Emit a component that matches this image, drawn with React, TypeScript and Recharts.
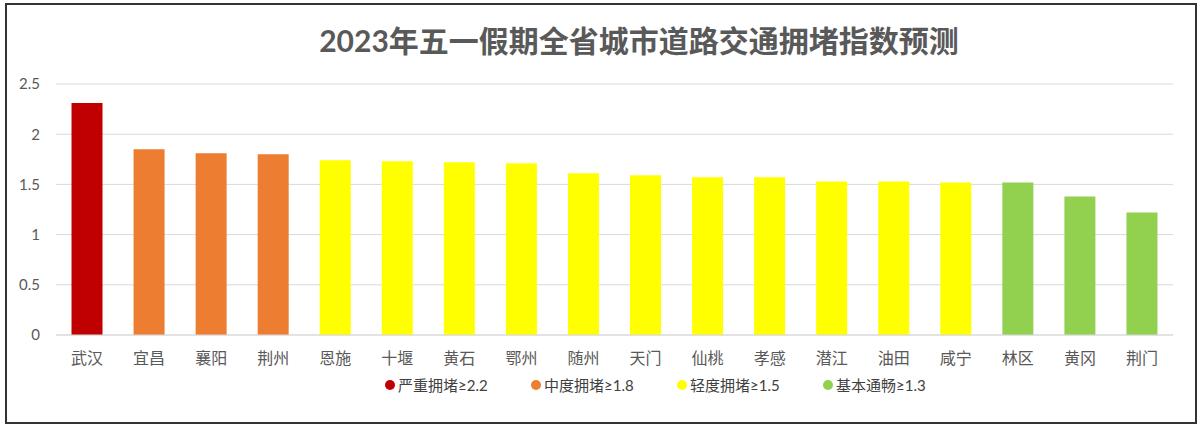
import { BarChart, Bar, XAxis, YAxis, CartesianGrid, Legend, Cell } from 'recharts';

const cities = ['武汉', '宜昌', '襄阳', '荆州', '恩施', '十堰', '黄石', '鄂州', '随州', '天门', '仙桃', '孝感', '潜江', '油田', '咸宁', '林区', '黄冈', '荆门'];
const values = [2.31, 1.85, 1.81, 1.8, 1.74, 1.73, 1.72, 1.71, 1.61, 1.59, 1.57, 1.57, 1.53, 1.53, 1.52, 1.52, 1.38, 1.22];
// congestion level of each city: 0 severe, 1 moderate, 2 light, 3 smooth
const levels = [0, 1, 1, 1, 2, 2, 2, 2, 2, 2, 2, 2, 2, 2, 2, 3, 3, 3];

const levelNames = ['严重拥堵≥2.2', '中度拥堵≥1.8', '轻度拥堵≥1.5', '基本通畅≥1.3'];
const levelColors = ['#C00000', '#ED7D31', '#FFFF00', '#92D050'];
const yTicks = [0, 0.5, 1, 1.5, 2, 2.5];

const FONT = 'Lato, "Noto Sans CJK SC", sans-serif';
const TEXT = '#595959';

const data = cities.map((city, i) => ({ city, value: values[i], level: levels[i] }));

function LegendContent() {
  return (
    <div
      style={{
        display: 'flex',
        justifyContent: 'flex-start',
        fontFamily: FONT,
        fontSize: 15,
        color: '#404040',
        paddingLeft: 375,
        paddingTop: 9,
      }}
    >
      {levelNames.map((name, i) => (
        <div key={name} style={{ display: 'flex', alignItems: 'center', width: 146 }}>
          <span
            style={{
              width: 10,
              height: 10,
              borderRadius: '50%',
              background: levelColors[i],
              display: 'inline-block',
              marginRight: 3,
            }}
          />
          <span>{name}</span>
        </div>
      ))}
    </div>
  );
}

export default function App() {
  return (
    <div style={{ position: 'absolute', left: 0, top: 0, width: 1200, height: 428, background: '#fff' }}>
      <div
        style={{
          position: 'absolute',
          left: 5,
          top: 3,
          width: 1188,
          height: 417,
          border: '2px solid #333',
        }}
      />
      <div
        style={{
          position: 'absolute',
          left: 0,
          top: 20,
          width: 1278,
          textAlign: 'center',
          fontFamily: FONT,
          fontSize: 30,
          fontWeight: 'bold',
          color: TEXT,
          lineHeight: '40px',
        }}
      >
        2023年五一假期全省城市道路交通拥堵指数预测
      </div>
      <div style={{ position: 'absolute', left: 0, top: 0 }}>
        <BarChart
          width={1200}
          height={428}
          data={data}
          margin={{ top: 84, right: 27, left: 10, bottom: 33 }}
          barCategoryGap="25%"
        >
          <CartesianGrid vertical={false} stroke="#d9d9d9" />
          <XAxis
            dataKey="city"
            axisLine={{ stroke: '#d9d9d9' }}
            tickLine={false}
            tickMargin={12}
            height={30}
            tick={{ fontSize: 16, fill: TEXT, fontFamily: FONT }}
            interval={0}
          />
          <YAxis
            domain={[0, 2.5]}
            ticks={yTicks}
            width={46}
            axisLine={false}
            tickLine={false}
            tickSize={0}
            tickMargin={16}
            tick={{ fontSize: 15, fill: TEXT, fontFamily: FONT }}
          />
          <Legend verticalAlign="bottom" content={<LegendContent />} />
          <Bar dataKey="value" isAnimationActive={false}>
            {data.map((d, i) => (
              <Cell key={i} fill={levelColors[d.level]} />
            ))}
          </Bar>
        </BarChart>
      </div>
    </div>
  );
}
